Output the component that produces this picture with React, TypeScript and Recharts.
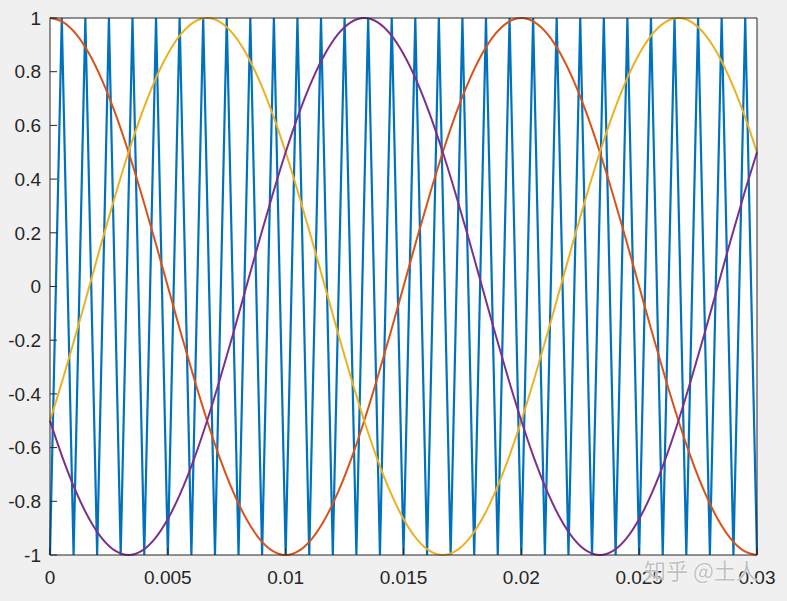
import React from 'react';
import { LineChart, Line, XAxis, YAxis, CartesianGrid } from 'recharts';

// Carrier (triangle) wave: time points and values
const carrierTimes = [
  0, 0.0005, 0.001, 0.0015, 0.002, 0.0025, 0.003, 0.0035, 0.004, 0.0045,
  0.005, 0.0055, 0.006, 0.0065, 0.007, 0.0075, 0.008, 0.0085, 0.009, 0.0095,
  0.01, 0.0105, 0.011, 0.0115, 0.012, 0.0125, 0.013, 0.0135, 0.014, 0.0145,
  0.015, 0.0155, 0.016, 0.0165, 0.017, 0.0175, 0.018, 0.0185, 0.019, 0.0195,
  0.02, 0.0205, 0.021, 0.0215, 0.022, 0.0225, 0.023, 0.0235, 0.024, 0.0245,
  0.025, 0.0255, 0.026, 0.0265, 0.027, 0.0275, 0.028, 0.0285, 0.029, 0.0295,
  0.03,
];
const carrierValues = [
  -1, 1, -1, 1, -1, 1, -1, 1, -1, 1,
  -1, 1, -1, 1, -1, 1, -1, 1, -1, 1,
  -1, 1, -1, 1, -1, 1, -1, 1, -1, 1,
  -1, 1, -1, 1, -1, 1, -1, 1, -1, 1,
  -1, 1, -1, 1, -1, 1, -1, 1, -1, 1,
  -1, 1, -1, 1, -1, 1, -1, 1, -1, 1,
  -1,
];

// Sinusoid sample times
const sineTimes = [
  0, 0.000556, 0.001111, 0.001667, 0.002222, 0.002778, 0.003333, 0.003889, 0.004444, 0.005,
  0.005556, 0.006111, 0.006667, 0.007222, 0.007778, 0.008333, 0.008889, 0.009444, 0.01, 0.010556,
  0.011111, 0.011667, 0.012222, 0.012778, 0.013333, 0.013889, 0.014444, 0.015, 0.015556, 0.016111,
  0.016667, 0.017222, 0.017778, 0.018333, 0.018889, 0.019444, 0.02, 0.020556, 0.021111, 0.021667,
  0.022222, 0.022778, 0.023333, 0.023889, 0.024444, 0.025, 0.025556, 0.026111, 0.026667, 0.027222,
  0.027778, 0.028333, 0.028889, 0.029444, 0.03,
];

const phaseA = [
  1, 0.985, 0.94, 0.866, 0.766, 0.643, 0.5, 0.342, 0.174, 0,
  -0.174, -0.342, -0.5, -0.643, -0.766, -0.866, -0.94, -0.985, -1, -0.985,
  -0.94, -0.866, -0.766, -0.643, -0.5, -0.342, -0.174, 0, 0.174, 0.342,
  0.5, 0.643, 0.766, 0.866, 0.94, 0.985, 1, 0.985, 0.94, 0.866,
  0.766, 0.643, 0.5, 0.342, 0.174, 0, -0.174, -0.342, -0.5, -0.643,
  -0.766, -0.866, -0.94, -0.985, -1,
];
const phaseB = [
  -0.5, -0.342, -0.174, 0, 0.174, 0.342, 0.5, 0.643, 0.766, 0.866,
  0.94, 0.985, 1, 0.985, 0.94, 0.866, 0.766, 0.643, 0.5, 0.342,
  0.174, 0, -0.174, -0.342, -0.5, -0.643, -0.766, -0.866, -0.94, -0.985,
  -1, -0.985, -0.94, -0.866, -0.766, -0.643, -0.5, -0.342, -0.174, 0,
  0.174, 0.342, 0.5, 0.643, 0.766, 0.866, 0.94, 0.985, 1, 0.985,
  0.94, 0.866, 0.766, 0.643, 0.5,
];
const phaseC = [
  -0.5, -0.643, -0.766, -0.866, -0.94, -0.985, -1, -0.985, -0.94, -0.866,
  -0.766, -0.643, -0.5, -0.342, -0.174, 0, 0.174, 0.342, 0.5, 0.643,
  0.766, 0.866, 0.94, 0.985, 1, 0.985, 0.94, 0.866, 0.766, 0.643,
  0.5, 0.342, 0.174, 0, -0.174, -0.342, -0.5, -0.643, -0.766, -0.866,
  -0.94, -0.985, -1, -0.985, -0.94, -0.866, -0.766, -0.643, -0.5, -0.342,
  -0.174, 0, 0.174, 0.342, 0.5,
];

const xTicks = [0, 0.005, 0.01, 0.015, 0.02, 0.025, 0.03];
const xTickLabels = ['0', '0.005', '0.01', '0.015', '0.02', '0.025', '0.03'];
const yTicks = [-1, -0.8, -0.6, -0.4, -0.2, 0, 0.2, 0.4, 0.6, 0.8, 1];
const yTickLabels = ['-1', '-0.8', '-0.6', '-0.4', '-0.2', '0', '0.2', '0.4', '0.6', '0.8', '1'];

const watermarkText = '知乎 @土人';

const carrierData = carrierTimes.map((t, i) => ({ t, v: carrierValues[i] }));
const dataA = sineTimes.map((t, i) => ({ t, v: phaseA[i] }));
const dataB = sineTimes.map((t, i) => ({ t, v: phaseB[i] }));
const dataC = sineTimes.map((t, i) => ({ t, v: phaseC[i] }));

const AXIS = '#262626';
const FONT = '"Liberation Sans", Arial, Helvetica, sans-serif';
const tickStyle = { fill: AXIS, fontSize: 19, fontFamily: FONT };

const fmtX = (v: number) => {
  const i = xTicks.findIndex((x) => Math.abs(x - v) < 1e-9);
  return i >= 0 ? xTickLabels[i] : String(v);
};
const fmtY = (v: number) => {
  const i = yTicks.findIndex((y) => Math.abs(y - v) < 1e-9);
  return i >= 0 ? yTickLabels[i] : String(v);
};

export default function App() {
  return (
    <div
      style={{
        position: 'absolute',
        left: 0,
        top: 0,
        width: 787,
        height: 601,
        background: '#f0f0f0',
        overflow: 'hidden',
      }}
    >
      <LineChart width={787} height={601} margin={{ top: 0, right: 0, bottom: 0, left: 0 }}>
        <CartesianGrid fill="#ffffff" horizontal={false} vertical={false} stroke="none" />
        <XAxis
          xAxisId="bottom"
          type="number"
          dataKey="t"
          domain={[0, 0.03]}
          ticks={xTicks}
          tickFormatter={fmtX}
          height={46}
          tickSize={-7}
          tickMargin={23}
          stroke={AXIS}
          tick={tickStyle}
          axisLine={{ stroke: AXIS, strokeWidth: 1 }}
          tickLine={{ stroke: AXIS, strokeWidth: 1 }}
          interval={0}
        />
        <XAxis
          xAxisId="top"
          orientation="top"
          type="number"
          dataKey="t"
          domain={[0, 0.03]}
          ticks={xTicks}
          tickFormatter={() => ''}
          height={18}
          tickSize={-7}
          stroke={AXIS}
          axisLine={{ stroke: AXIS, strokeWidth: 1 }}
          tickLine={{ stroke: AXIS, strokeWidth: 1 }}
          interval={0}
        />
        <YAxis
          yAxisId="left"
          type="number"
          domain={[-1, 1]}
          ticks={yTicks}
          tickFormatter={fmtY}
          width={50}
          tickSize={-7}
          tickMargin={16}
          stroke={AXIS}
          tick={tickStyle}
          axisLine={{ stroke: AXIS, strokeWidth: 1 }}
          tickLine={{ stroke: AXIS, strokeWidth: 1 }}
          interval={0}
        />
        <YAxis
          yAxisId="right"
          orientation="right"
          type="number"
          domain={[-1, 1]}
          ticks={yTicks}
          tickFormatter={() => ''}
          width={30}
          tickSize={-7}
          stroke={AXIS}
          axisLine={{ stroke: AXIS, strokeWidth: 1 }}
          tickLine={{ stroke: AXIS, strokeWidth: 1 }}
          interval={0}
        />
        <Line
          data={carrierData}
          xAxisId="bottom"
          yAxisId="left"
          dataKey="v"
          type="linear"
          stroke="#0072BD"
          strokeWidth={2.2}
          dot={false}
          activeDot={false}
          isAnimationActive={false}
        />
        <Line
          data={dataA}
          xAxisId="bottom"
          yAxisId="left"
          dataKey="v"
          type="monotone"
          stroke="#D95319"
          strokeWidth={2}
          dot={false}
          activeDot={false}
          isAnimationActive={false}
        />
        <Line
          data={dataB}
          xAxisId="bottom"
          yAxisId="left"
          dataKey="v"
          type="monotone"
          stroke="#EDB120"
          strokeWidth={2}
          dot={false}
          activeDot={false}
          isAnimationActive={false}
        />
        <Line
          data={dataC}
          xAxisId="bottom"
          yAxisId="left"
          dataKey="v"
          type="monotone"
          stroke="#7E2F8E"
          strokeWidth={2}
          dot={false}
          activeDot={false}
          isAnimationActive={false}
        />
      </LineChart>
      <div
        style={{
          position: 'absolute',
          left: 644,
          top: 557,
          fontFamily: '"Noto Sans CJK SC", sans-serif',
          fontSize: 22,
          lineHeight: '24px',
          color: 'rgba(175,175,175,0.8)',
          textShadow: '0 0 2px #ffffff, 0 0 1px #ffffff',
          whiteSpace: 'nowrap',
          pointerEvents: 'none',
        }}
      >
        {watermarkText}
      </div>
    </div>
  );
}
